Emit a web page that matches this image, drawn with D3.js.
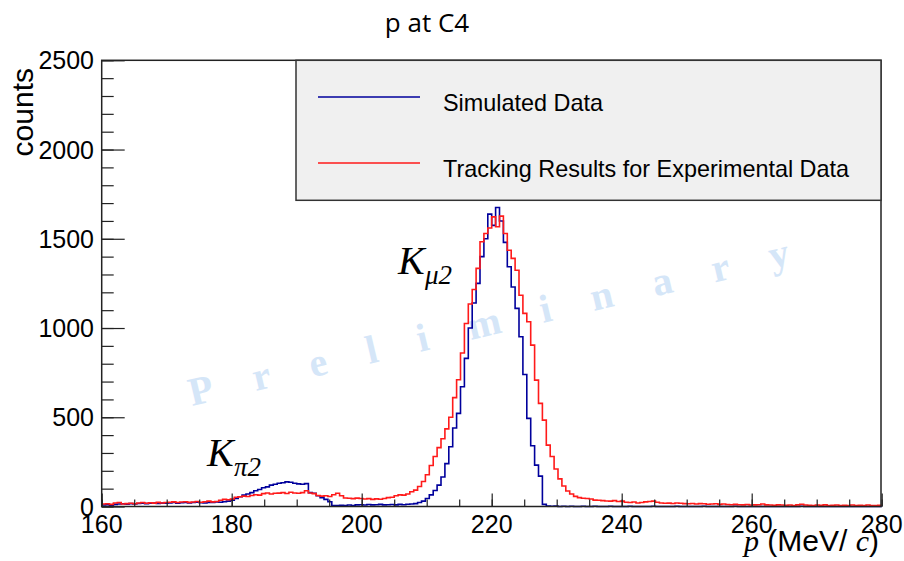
<!DOCTYPE html>
<html><head><meta charset="utf-8">
<script src="https://cdn.jsdelivr.net/npm/d3@7"></script>
<style>body{margin:0;background:#fff}</style>
</head><body>
<svg id="c" width="904" height="561"></svg>
<script>
// ---- data ----
const binLow = 160, binWidth = 0.6;
const xDomain = [160, 280];
const yDomain = [0, 2500];
const xTicks = [160, 180, 200, 220, 240, 260, 280];
const yTicks = [0, 500, 1000, 1500, 2000, 2500];
const seriesNames = ["Simulated Data", "Tracking Results for Experimental Data"];
const chartTitle = "p at C4";

const simulated = [
  8,10,7,
  12,14,15,13,16,14,
  17,19,16,18,20,17,19,18,
  20,22,19,21,23,20,22,24,21,20,23,22,25,24,27,30,
  36,45,55,64,70,78,88,95,105,110,120,125,130,133,138,136,130,127,125,128,78,74,60,50,40,27,
  6,5,7,6,8,5,
  9,10,8,11,9,10,12,9,10,11,9,12,10,
  13,14,16,
  22,30,45,65,90,120,165,240,
  335,440,522,671,830,1000,1140,1250,1400,1500,1638,1575,1675,
  1600,1480,1343,1230,1110,951,740,494,340,232,170,12,
  3,1,2,0,1,0,1,0,0,1,
  0,0,1,0,0,0,1,0,0,0,
  0,1,0,0,0,0,0,1,0,0,
  0,0,0,1,0,0,0,0,0,0,
  1,0,0,0,0,0,0,0,1,0,
  0,0,0,0,0,0,0,0,0,0,
  0,0,0,0,0,1,0,0,0,0,
  0,0,0,0,0,0,0,0,0,0,
  0,0,0,0,0,0
];
const experimental = [
  14,15,12,
  20,22,
  14,16,18,15,
  20,22,18,21,19,23,20,22,
  24,26,22,25,27,23,25,28,24,
  27,30,26,28,
  35,40,38,42,
  52,55,58,56,
  62,66,64,
  72,76,70,74,
  75,78,73,80,76,74,
  78,88,76,72,
  62,58,60,56,
  66,74,60,
  48,46,44,47,45,
  42,44,40,43,41,45,
  50,52,
  60,65,64,70,
  83,92,112,
  140,178,230,280,330,380,435,500,610,710,860,1025,1135,1216,1334,1483,1530,1560,
  1623,1567,1627,1530,1436,1390,1324,1184,1082,1035,904,708,578,484,344,280,210,155,115,87,
  70,57,50,46,45,42,36,35,33,31,30,33,28,30,
  24,22,25,20,22,26,28,30,24,20,
  18,19,17,20,18,16,15,17,14,16,
  15,13,14,15,12,14,11,10,12,10,
  9,11,8,9,10,14,9,8,7,9,
  8,7,8,6,9,13,8,7,6,8,
  7,9,6,7,8,6,7,5,8,6,
  7,6,8,5,6,7
];

// ---- layout ----
const svg = d3.select("#c");
const L = 101.7, R = 881.7, T = 60.3, B = 506.5;
const x = d3.scaleLinear().domain(xDomain).range([L, R]);
const y = d3.scaleLinear().domain(yDomain).range([B, T]);
const sans = "'Liberation Sans', Arial, Helvetica, sans-serif";
const serif = "'Liberation Serif', 'Times New Roman', serif";

// title
svg.append("text").attr("x", 427).attr("y", 32).attr("text-anchor", "middle")
  .attr("font-family", "'Open Sans', sans-serif").attr("font-size", 26).attr("fill", "#000")
  .text(chartTitle);

// watermark
svg.append("text")
  .attr("transform", "translate(192,406) rotate(-13.3)")
  .attr("font-family", serif).attr("font-weight", "bold").attr("font-size", 40)
  .attr("letter-spacing", 41).attr("fill", "#d5e6f8")
  .text("Preliminary");

// histograms
function histPath(data) {
  const pts = data.map((v, i) => [binLow + i * binWidth, v]);
  pts.push([binLow + data.length * binWidth, data[data.length - 1]]);
  return d3.line().x(d => x(d[0])).y(d => y(d[1])).curve(d3.curveStepAfter)(pts);
}
svg.append("path").attr("d", histPath(simulated)).attr("fill", "none")
  .attr("stroke", "#00009c").attr("stroke-width", 1.6);
svg.append("path").attr("d", histPath(experimental)).attr("fill", "none")
  .attr("stroke", "#ff1a1a").attr("stroke-width", 1.6);

// axes (ROOT-style ticks inside)
const xAxis = d3.axisTop(x).tickValues(xTicks).tickSize(13).tickFormat("");
const xMinor = d3.axisTop(x).tickValues(d3.range(160, 281, 5)).tickSize(7).tickFormat("");
const yAxis = d3.axisRight(y).tickValues(yTicks).tickSize(23).tickFormat("");
const yMinor = d3.axisRight(y).tickValues(d3.range(0, 2501, 100)).tickSize(12).tickFormat("");
[xMinor, xAxis].forEach(a => {
  const g = svg.append("g").attr("transform", `translate(0,${B})`).call(a);
  g.select(".domain").remove();
  g.selectAll("line").attr("stroke", "#222").attr("stroke-width", 1.2);
});
[yMinor, yAxis].forEach(a => {
  const g = svg.append("g").attr("transform", `translate(${L},0)`).call(a);
  g.select(".domain").remove();
  g.selectAll("line").attr("stroke", "#222").attr("stroke-width", 1.2);
});

// frame
svg.append("rect").attr("x", L).attr("y", T).attr("width", R - L - 0.7).attr("height", B - T)
  .attr("fill", "none").attr("stroke", "#222").attr("stroke-width", 1.5);

// tick labels
svg.append("g").selectAll("text").data(xTicks).join("text")
  .attr("x", d => x(d)).attr("y", 533).attr("text-anchor", "middle")
  .attr("font-family", sans).attr("font-size", 25).text(d => d);
svg.append("g").selectAll("text").data(yTicks).join("text")
  .attr("x", 94).attr("y", d => y(d) + 9).attr("text-anchor", "end")
  .attr("font-family", sans).attr("font-size", 25).text(d => d);

// axis titles
svg.append("text").attr("transform", "translate(33,68) rotate(-90)").attr("text-anchor", "end")
  .attr("font-family", sans).attr("font-size", 30).text("counts");
const xt = svg.append("text").attr("x", 879).attr("y", 551).attr("text-anchor", "end")
  .attr("font-size", 30);
xt.append("tspan").attr("font-family", serif).attr("font-style", "italic").text("p");
xt.append("tspan").attr("font-family", sans).text(" (MeV/ ");
xt.append("tspan").attr("font-family", serif).attr("font-style", "italic").text("c");
xt.append("tspan").attr("font-family", sans).text(")");

// peak labels
function kLabel(xk, yk, sub) {
  svg.append("text").attr("x", xk).attr("y", yk).attr("font-family", serif)
    .attr("font-style", "italic").attr("font-size", 40).text("K");
  svg.append("text").attr("x", xk + 27).attr("y", yk + 10).attr("font-family", serif)
    .attr("font-style", "italic").attr("font-size", 27).text(sub);
}
kLabel(398, 274, "\u03bc2");
kLabel(207, 466, "\u03c02");

// legend
svg.append("rect").attr("x", 296).attr("y", T).attr("width", R - 0.7 - 296).attr("height", 140)
  .attr("fill", "#f0f0f0").attr("stroke", "#333").attr("stroke-width", 1.5);
const legColors = ["#00009c", "#ff1a1a"];
const legY = [97, 163];
seriesNames.forEach((n, i) => {
  svg.append("line").attr("x1", 318).attr("x2", 420).attr("y1", legY[i]).attr("y2", legY[i])
    .attr("stroke", legColors[i]).attr("stroke-width", 1.6);
  svg.append("text").attr("x", 443).attr("y", legY[i] + 13.5).attr("font-family", sans)
    .attr("font-size", 23.4).text(n);
});
</script>
</body></html>
